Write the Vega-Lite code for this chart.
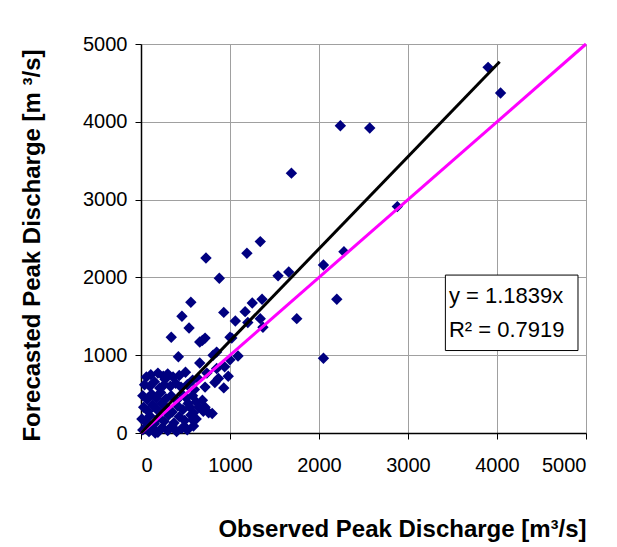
{
  "$schema": "https://vega.github.io/schema/vega-lite/v6.json",
  "width": 445,
  "height": 389,
  "autosize": {"type": "none"},
  "padding": {"left": 141, "top": 44, "right": 31, "bottom": 114},
  "background": "white",
  "config": {
    "view": {"stroke": null},
    "font": "Liberation Sans",
    "axis": {
      "gridColor": "#a0a0a0", "gridWidth": 1, "gridOpacity": 1,
      "domainColor": "black", "domainWidth": 1.5,
      "tickColor": "black", "tickSize": 6, "tickWidth": 1,
      "labelFont": "Liberation Sans", "labelFontSize": 20, "labelColor": "black",
      "titleFont": "Liberation Sans", "titleFontSize": 24, "titleFontWeight": "bold", "titleColor": "black"
    }
  },
  "datasets": {
    "points": [
      {"observed": 3900, "forecast": 4700}, {"observed": 4040, "forecast": 4370}, {"observed": 2240, "forecast": 3950},
      {"observed": 2570, "forecast": 3920}, {"observed": 1690, "forecast": 3340}, {"observed": 2880, "forecast": 2910},
      {"observed": 1340, "forecast": 2460}, {"observed": 1190, "forecast": 2310}, {"observed": 730, "forecast": 2250},
      {"observed": 2280, "forecast": 2330}, {"observed": 880, "forecast": 1990}, {"observed": 1540, "forecast": 2020},
      {"observed": 1660, "forecast": 2070}, {"observed": 2050, "forecast": 2160}, {"observed": 2050, "forecast": 960},
      {"observed": 1750, "forecast": 1470}, {"observed": 2200, "forecast": 1720}, {"observed": 560, "forecast": 1680},
      {"observed": 460, "forecast": 1500}, {"observed": 540, "forecast": 1350}, {"observed": 340, "forecast": 1230},
      {"observed": 690, "forecast": 1190}, {"observed": 720, "forecast": 1220}, {"observed": 930, "forecast": 1550},
      {"observed": 1060, "forecast": 1440}, {"observed": 1170, "forecast": 1560}, {"observed": 1250, "forecast": 1670},
      {"observed": 1360, "forecast": 1720}, {"observed": 1200, "forecast": 1420}, {"observed": 1340, "forecast": 1470},
      {"observed": 1370, "forecast": 1360}, {"observed": 1020, "forecast": 1220}, {"observed": 850, "forecast": 1040},
      {"observed": 420, "forecast": 980}, {"observed": 660, "forecast": 900}, {"observed": 1090, "forecast": 990},
      {"observed": 1000, "forecast": 940}, {"observed": 940, "forecast": 850}, {"observed": 980, "forecast": 730},
      {"observed": 870, "forecast": 700}, {"observed": 930, "forecast": 580}, {"observed": 740, "forecast": 770},
      {"observed": 720, "forecast": 590}, {"observed": 580, "forecast": 680}, {"observed": 690, "forecast": 420},
      {"observed": 550, "forecast": 330}, {"observed": 580, "forecast": 170}, {"observed": 1000, "forecast": 1230},
      {"observed": 810, "forecast": 1000}, {"observed": 660, "forecast": 1170}, {"observed": 830, "forecast": 650},
      {"observed": 850, "forecast": 830}, {"observed": 760, "forecast": 260}, {"observed": 800, "forecast": 250},
      {"observed": 720, "forecast": 330},
      {"observed": 60, "forecast": 720}, {"observed": 110, "forecast": 750}, {"observed": 190, "forecast": 770},
      {"observed": 250, "forecast": 730}, {"observed": 300, "forecast": 760}, {"observed": 360, "forecast": 720},
      {"observed": 430, "forecast": 740}, {"observed": 500, "forecast": 780}, {"observed": 270, "forecast": 690},
      {"observed": 40, "forecast": 620}, {"observed": 100, "forecast": 600}, {"observed": 150, "forecast": 660},
      {"observed": 210, "forecast": 580}, {"observed": 260, "forecast": 620}, {"observed": 330, "forecast": 600},
      {"observed": 390, "forecast": 640}, {"observed": 450, "forecast": 590}, {"observed": 520, "forecast": 620},
      {"observed": 600, "forecast": 560}, {"observed": 640, "forecast": 700},
      {"observed": 20, "forecast": 480}, {"observed": 70, "forecast": 430}, {"observed": 120, "forecast": 500},
      {"observed": 170, "forecast": 450}, {"observed": 220, "forecast": 520}, {"observed": 280, "forecast": 440},
      {"observed": 340, "forecast": 480}, {"observed": 400, "forecast": 420}, {"observed": 460, "forecast": 500},
      {"observed": 510, "forecast": 450}, {"observed": 580, "forecast": 480}, {"observed": 620, "forecast": 400},
      {"observed": 30, "forecast": 330}, {"observed": 80, "forecast": 280}, {"observed": 130, "forecast": 360},
      {"observed": 180, "forecast": 300}, {"observed": 230, "forecast": 380}, {"observed": 290, "forecast": 320},
      {"observed": 350, "forecast": 270}, {"observed": 410, "forecast": 350}, {"observed": 470, "forecast": 300},
      {"observed": 530, "forecast": 380}, {"observed": 590, "forecast": 260}, {"observed": 650, "forecast": 330},
      {"observed": 10, "forecast": 180}, {"observed": 50, "forecast": 150}, {"observed": 100, "forecast": 220},
      {"observed": 150, "forecast": 120}, {"observed": 200, "forecast": 200}, {"observed": 260, "forecast": 150},
      {"observed": 310, "forecast": 230}, {"observed": 370, "forecast": 130}, {"observed": 430, "forecast": 210},
      {"observed": 490, "forecast": 160}, {"observed": 560, "forecast": 230}, {"observed": 620, "forecast": 180},
      {"observed": 20, "forecast": 40}, {"observed": 60, "forecast": 80}, {"observed": 90, "forecast": 20},
      {"observed": 140, "forecast": 50}, {"observed": 190, "forecast": 10}, {"observed": 240, "forecast": 70},
      {"observed": 300, "forecast": 30}, {"observed": 350, "forecast": 90}, {"observed": 400, "forecast": 20},
      {"observed": 460, "forecast": 60}, {"observed": 520, "forecast": 40}, {"observed": 590, "forecast": 90},
      {"observed": 160, "forecast": 0}, {"observed": 700, "forecast": 280}, {"observed": 494, "forecast": 77}
    ],
    "identity": [{"observed": 0, "forecast": 0}, {"observed": 5000, "forecast": 5000}],
    "fit": [{"observed": 0, "forecast": 0}, {"observed": 4030, "forecast": 4771}],
    "annotation": [{"line1": "y = 1.1839x", "line2": "R² = 0.7919"}]
  },
  "layer": [
    {
      "data": {"name": "points"},
      "mark": {"type": "point", "shape": "diamond", "filled": true, "size": 130, "color": "#000080", "opacity": 1},
      "encoding": {
        "x": {"field": "observed", "type": "quantitative",
              "scale": {"domain": [0, 5000], "nice": false},
              "axis": {"values": [0, 1000, 2000, 3000, 4000, 5000], "format": "d",
                       "title": "Observed Peak Discharge [m³/s]",
                       "titleX": 261, "titleY": 96, "titleBaseline": "middle", "titleAlign": "center",
                       "labelPadding": 16}},
        "y": {"field": "forecast", "type": "quantitative",
              "scale": {"domain": [0, 5000], "nice": false},
              "axis": {"values": [0, 1000, 2000, 3000, 4000, 5000], "format": "d",
                       "title": "Forecasted Peak Discharge [m ³/s]",
                       "titleX": -109, "titleY": 201, "titleAngle": -90, "titleBaseline": "middle", "titleAlign": "center",
                       "labelPadding": 8}}
      }
    },
    {
      "data": {"name": "identity"},
      "mark": {"type": "line", "color": "#ff00ff", "strokeWidth": 3},
      "encoding": {
        "x": {"field": "observed", "type": "quantitative"},
        "y": {"field": "forecast", "type": "quantitative"}
      }
    },
    {
      "data": {"name": "fit"},
      "mark": {"type": "line", "color": "black", "strokeWidth": 3},
      "encoding": {
        "x": {"field": "observed", "type": "quantitative"},
        "y": {"field": "forecast", "type": "quantitative"}
      }
    },
    {
      "data": {"name": "annotation"},
      "mark": {"type": "rect", "fill": "white", "stroke": "black", "strokeWidth": 1},
      "encoding": {
        "x": {"datum": 3420, "type": "quantitative"},
        "x2": {"datum": 4910},
        "y": {"datum": 1060, "type": "quantitative"},
        "y2": {"datum": 2030}
      }
    },
    {
      "data": {"name": "annotation"},
      "mark": {"type": "text", "align": "left", "baseline": "middle", "fontSize": 22, "color": "black", "font": "Liberation Sans"},
      "encoding": {
        "x": {"datum": 3460, "type": "quantitative"},
        "y": {"datum": 1760, "type": "quantitative"},
        "text": {"field": "line1"}
      }
    },
    {
      "data": {"name": "annotation"},
      "mark": {"type": "text", "align": "left", "baseline": "middle", "fontSize": 22, "color": "black", "font": "Liberation Sans"},
      "encoding": {
        "x": {"datum": 3460, "type": "quantitative"},
        "y": {"datum": 1320, "type": "quantitative"},
        "text": {"field": "line2"}
      }
    }
  ]
}
